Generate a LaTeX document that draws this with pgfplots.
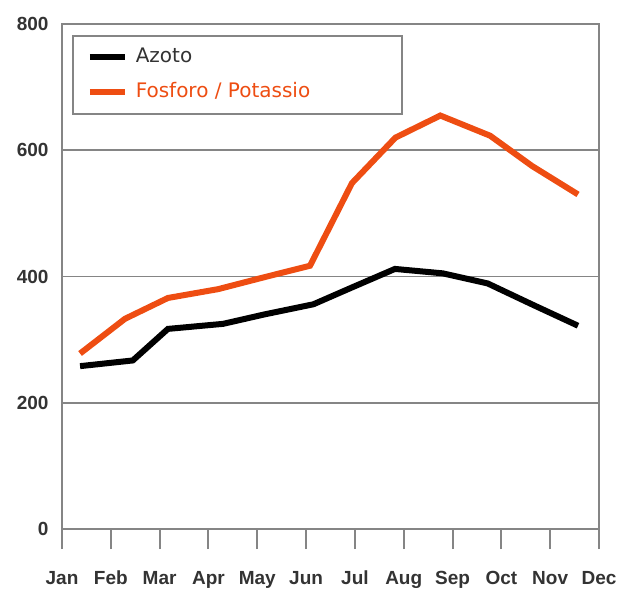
\documentclass[border=0pt]{standalone}
\usepackage{pgfplots}
\pgfplotsset{compat=1.18}
\usepackage{fontspec}
\setmainfont{Liberation Sans}
\newfontfamily\legendfont{DejaVu Sans}
\definecolor{frame}{HTML}{858585}
\definecolor{ticktext}{HTML}{333333}
\definecolor{fosforo}{HTML}{EE4D12}
\begin{document}
\begin{tikzpicture}
\begin{axis}[
    at={(0pt,0pt)}, anchor=south west,
    scale only axis,
    width=537pt, height=505pt,
    xmin=0, xmax=11,
    ymin=0, ymax=800,
    xtick={0,1,2,3,4,5,6,7,8,9,10,11},
    xticklabels={Jan,Feb,Mar,Apr,May,Jun,Jul,Aug,Sep,Oct,Nov,Dec},
    ytick={0,200,400,600,800},
    ymajorgrids,
    grid style={frame, line width=1.8pt},
    axis line style={frame, line width=2pt},
    tick style={frame, line width=2pt},
    tick align=outside,
    major tick length=20pt,
    y tick style={draw=none},
    xtick pos=bottom,
    ytick pos=left,
    ticklabel style={font=\fontsize{19}{22}\selectfont\bfseries, text=ticktext},
    yticklabel style={xshift=10pt},
    xticklabel style={yshift=-18pt, text height=14pt, text depth=4pt},
    /pgf/number format/assume math mode=true,
    legend style={
        at={(axis description cs:0,1)}, anchor=north west,
        xshift=10pt, yshift=-11pt,
        draw=frame, line width=1.5pt,
        font=\legendfont\fontsize{20}{24}\selectfont,
        inner xsep=14pt, inner ysep=4pt,
        nodes={inner xsep=2pt, inner ysep=8pt, text height=15pt, text depth=4pt},
        cells={anchor=west},
    },
    legend image code/.code={\draw[#1] (0pt,0pt) -- (35pt,0pt); \path (41pt,0pt);},
]
\addplot[black, line width=6pt] coordinates {
(0.37,258) (1.45,267) (2.17,317) (3.3,325) (4.15,340) (5.15,356)
(5.95,383) (6.82,412) (7.8,405) (8.72,389) (9.65,355) (10.57,322)
};
\addlegendentry{\makebox[250pt][l]{\textcolor{ticktext}{Azoto}}}
\addplot[fosforo, line width=6pt] coordinates {
(0.37,278) (1.29,333) (2.17,366) (3.2,380) (4.15,399) (5.08,417)
(5.94,548) (6.83,620) (7.75,655) (8.77,623) (9.63,575) (10.57,530)
};
\addlegendentry{\makebox[250pt][l]{\textcolor{fosforo}{Fosforo / Potassio}}}
\end{axis}
\pgfresetboundingbox
\path[use as bounding box] (-62pt,-60pt) rectangle (561pt,529pt);
\end{tikzpicture}
\end{document}
